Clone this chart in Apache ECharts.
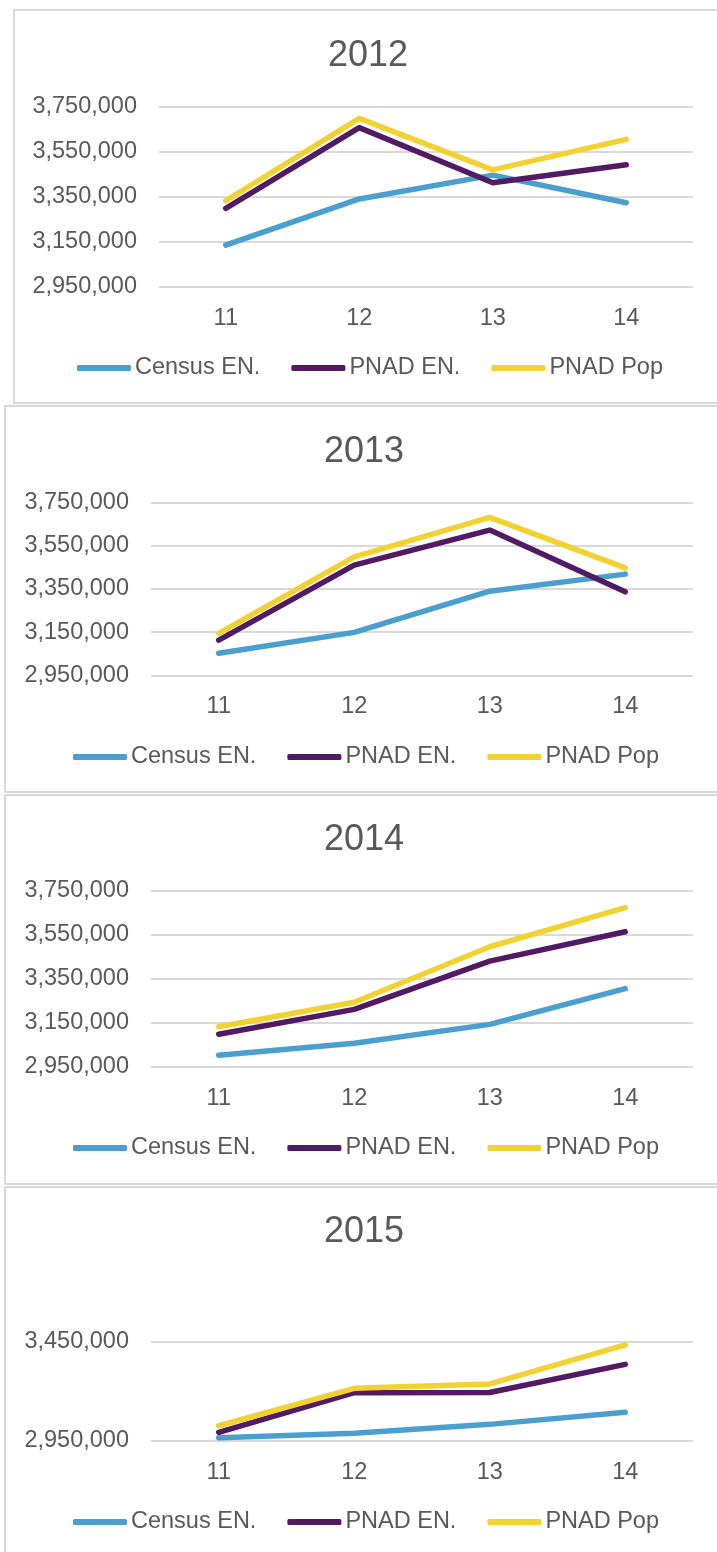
<!DOCTYPE html>
<html>
<head>
<meta charset="utf-8">
<script src="https://cdn.jsdelivr.net/npm/echarts@6/dist/echarts.min.js"></script>
<style>
  html, body { margin: 0; padding: 0; background: #fff; width: 717px; height: 1552px; overflow: hidden; position: relative; }
  .panel { position: absolute; box-sizing: border-box; border: 2px solid #d9d9d9; background: #fff; }
</style>
</head>
<body>
<div id="c2012" class="panel" style="left:13px; top:9px; width:710px; height:395px;"></div>
<div id="c2013" class="panel" style="left:4px; top:405px; width:720px; height:388px;"></div>
<div id="c2014" class="panel" style="left:4px; top:794px; width:720px; height:391px;"></div>
<div id="c2015" class="panel" style="left:4px; top:1186px; width:720px; height:400px;"></div>
<script>
// values
const categories = ["11", "12", "13", "14"];
const seriesNames = ["Census EN.", "PNAD EN.", "PNAD Pop"];
const yearTitles = ["2012", "2013", "2014", "2015"];

const census2012 = [3135000, 3340000, 3446000, 3323000];
const pnadEN2012 = [3298000, 3657000, 3412000, 3492000];
const pnadPop2012 = [3332000, 3698000, 3469000, 3605000];

const census2013 = [3052000, 3149000, 3340000, 3419000];
const pnadEN2013 = [3113000, 3461000, 3623000, 3337000];
const pnadPop2013 = [3144000, 3499000, 3682000, 3448000];

const census2014 = [3002000, 3056000, 3142000, 3304000];
const pnadEN2014 = [3097000, 3210000, 3429000, 3562000];
const pnadPop2014 = [3131000, 3242000, 3494000, 3671000];

const census2015 = [2967000, 2989000, 3034000, 3095000];
const pnadEN2015 = [2994000, 3194000, 3195000, 3337000];
const pnadPop2015 = [3027000, 3216000, 3238000, 3435000];

// y axis ticks: counted from min
const yAxisMins = [2950000, 2950000, 2950000, 2950000];
const yAxisMaxes = [3750000, 3750000, 3750000, 3450000];
const yAxisSteps = [200000, 200000, 200000, 500000];

const COLORS = ["#4a9fcf", "#521a63", "#f2d232"];
const TEXT = "#595959";
const FONT = '"Liberation Sans", Arial, sans-serif';

// layout of each panel, px inside the bordered box
const panels = [
  { id: "c2012", data: [census2012, pnadEN2012, pnadPop2012], titleTop: 27, grid: { left: 144, top: 95.7, width: 534, height: 180 }, xMargin: 19.5, legend: { left: 62, top: 345 } },
  { id: "c2013", data: [census2013, pnadEN2013, pnadPop2013], titleTop: 27, grid: { left: 145, top: 95.7, width: 542, height: 172.6 }, xMargin: 19.2, legend: { left: 67, top: 338 } },
  { id: "c2014", data: [census2014, pnadEN2014, pnadPop2014], titleTop: 25.7, grid: { left: 145, top: 94.3, width: 542, height: 176.4 }, xMargin: 19.7, legend: { left: 67, top: 340 } },
  { id: "c2015", data: [census2015, pnadEN2015, pnadPop2015], titleTop: 25.8, grid: { left: 145, top: 154, width: 542, height: 99 }, xMargin: 19.2, legend: { left: 67, top: 322 } },
];

panels.forEach((p, i) => {
  const chart = echarts.init(document.getElementById(p.id), null, { renderer: "canvas" });

  const options = {
    animation: false,
    title: {
      text: yearTitles[i],
      left: "center",
      top: p.titleTop,
      padding: 0,
      textStyle: { color: TEXT, fontFamily: FONT, fontSize: 36, fontWeight: "normal" },
    },
    grid: Object.assign({ containLabel: false, outerBoundsMode: "none" }, p.grid),
    xAxis: {
      type: "category",
      data: categories,
      boundaryGap: true,
      axisLine: { show: false },
      axisTick: { show: false },
      axisLabel: { color: TEXT, fontFamily: FONT, fontSize: 23.5, margin: p.xMargin },
    },
    yAxis: {
      type: "value",
      min: yAxisMins[i],
      max: yAxisMaxes[i],
      interval: yAxisSteps[i],
      axisLine: { show: false },
      axisTick: { show: false },
      splitLine: { lineStyle: { color: "#d9d9d9", width: 2 } },
      axisLabel: {
        color: TEXT, fontFamily: FONT, fontSize: 23.5, margin: 22,
        padding: [4, 0, 0, 0],
        formatter: (v) => v.toLocaleString("en-US"),
      },
    },
    legend: {
      left: p.legend.left,
      top: p.legend.top,
      padding: 0,
      itemWidth: 54,
      itemHeight: 6,
      itemGap: 31,
      icon: "roundRect",
      textStyle: { color: TEXT, fontFamily: FONT, fontSize: 23.5, padding: [0, 0, 0, -1] },
      data: seriesNames,
    },
    series: seriesNames.map((name, k) => ({
      name: name,
      type: "line",
      data: p.data[k],
      symbol: "none",
      color: COLORS[k],
      lineStyle: { width: 5.5, color: COLORS[k], cap: "round", join: "round" },
    })),
  };

  chart.setOption(options);
});
</script>
</body>
</html>
